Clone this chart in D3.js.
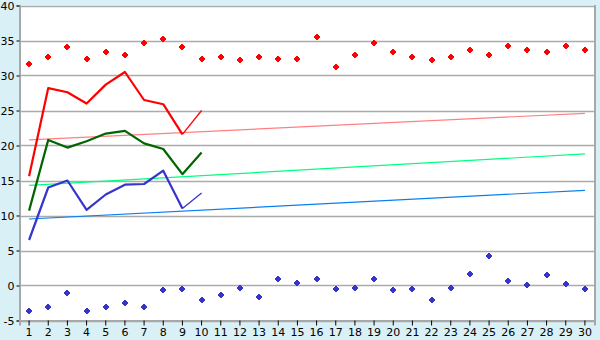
<!DOCTYPE html>
<html><head><meta charset="utf-8">
<script src="https://cdn.jsdelivr.net/npm/d3@7"></script>
<style>
html,body{margin:0;padding:0;background:#daf0f7;}
svg{display:block;}
text{font-family:"DejaVu Sans",Verdana,sans-serif;font-size:11px;fill:#000;}
</style></head><body>
<svg id="c" width="600" height="340"></svg>
<script>
const categories = d3.range(1, 31).map(String);
const yTicks = [-5, 0, 5, 10, 15, 20, 25, 30, 35, 40];

const highDots = [31.7,32.7,34.0,32.3,33.4,32.9,34.7,35.2,34.0,32.4,32.6,32.2,32.6,32.4,32.3,35.5,31.2,32.9,34.7,33.4,32.7,32.2,32.7,33.6,33.0,34.2,33.6,33.4,34.2,33.6];
const lowDots = [-3.7,-3.0,-1.0,-3.7,-3.0,-2.5,-3.0,-0.7,-0.5,-2.0,-1.3,-0.4,-1.7,1.0,0.3,1.0,-0.5,-0.3,1.0,-0.7,-0.5,-2.0,-0.4,1.7,4.2,0.7,0.0,1.5,0.2,-0.5];

const redLine = [15.6,28.2,27.6,26.0,28.7,30.5,26.5,25.9,21.6,25.0];
const greenLine = [10.7,20.8,19.7,20.6,21.7,22.1,20.3,19.5,15.9,19.0];
const blueLine = [6.5,14.0,15.0,10.8,13.0,14.4,14.5,16.4,11.0,13.2];

const trendCats = ["1", "30"];
const redTrend = [20.8, 24.6];
const greenTrend = [14.3, 18.8];
const blueTrend = [9.5, 13.6];

const svg = d3.select("#c");
const L = 19.5, R = 594.5, T = 5.5, B = 320.5;
const x = d3.scaleBand().domain(categories).range([L, R]);
const cx = c => x(c) + x.bandwidth() / 2;
const y = d3.scaleLinear().domain([-5, 40]).range([B, T]);

svg.append("rect").attr("x", L).attr("y", T).attr("width", R - L).attr("height", B - T).attr("fill", "#fff");

// gridlines
svg.append("g").selectAll("line").data(yTicks).join("line")
  .attr("x1", L).attr("x2", R).attr("y1", d => Math.round(y(d)) + 0.5).attr("y2", d => Math.round(y(d)) + 0.5)
  .attr("stroke", "#ababab").attr("stroke-width", 1.5);

// right border
svg.append("line").attr("x1", R + 0.5).attr("x2", R + 0.5).attr("y1", T - 0.5).attr("y2", B + 0.5)
  .attr("stroke", "#a8a8a8").attr("stroke-width", 2);

// axes
const yAxis = d3.axisLeft(y).tickValues(yTicks).tickSize(3).tickPadding(2).tickFormat(d => String(d));
const gy = svg.append("g").attr("transform", `translate(${L},0)`).call(yAxis);
gy.select(".domain").attr("stroke", "#a8a8a8").attr("stroke-width", 2);
gy.selectAll(".tick line").attr("stroke", "#000");
gy.selectAll("text").style("font-size", "11px");

const xAxis = d3.axisBottom(x).tickSize(5).tickPadding(3);
const gx = svg.append("g").attr("transform", `translate(0,${B})`).call(xAxis);
gx.select(".domain").attr("stroke", "#a8a8a8").attr("stroke-width", 2);
gx.selectAll(".tick line").attr("stroke", "#000");
gx.selectAll("text").style("font-size", "11px");

// trend lines
const trends = [[redTrend, "#ff8080"], [greenTrend, "#00ff80"], [blueTrend, "#0a7ff0"]];
trends.forEach(([vals, col]) => {
  svg.append("path")
    .attr("d", d3.line().x((d, i) => cx(trendCats[i])).y(d => y(d))(vals))
    .attr("fill", "none").attr("stroke", col).attr("stroke-width", 1.2);
});

// data lines
const series = [[redLine, "#ff0000", true], [greenLine, "#006400", false], [blueLine, "#3535cc", true]];
const line = d3.line().x(d => cx(d.c)).y(d => y(d.v));
series.forEach(([vals, col, thinLast]) => {
  const pts = vals.map((v, i) => ({c: categories[i], v}));
  const main = thinLast ? pts.slice(0, pts.length - 1) : pts;
  svg.append("path").attr("d", line(main)).attr("fill", "none").attr("stroke", col)
    .attr("stroke-width", 2.2).attr("stroke-linejoin", "round");
  if (thinLast) {
    svg.append("path").attr("d", line(pts.slice(pts.length - 2))).attr("fill", "none").attr("stroke", col)
      .attr("stroke-width", 1.3);
  }
});

// markers
const marker = "M-1,-3H1V-2H2V-1H3V1H2V2H1V3H-1V2H-2V1H-3V-1H-2V-2H-1Z";
function dots(vals, col) {
  svg.append("g").selectAll("path").data(vals).join("path")
    .attr("transform", (d, i) => `translate(${Math.round(cx(categories[i]))},${Math.round(y(d))})`)
    .attr("d", marker).attr("fill", col).attr("shape-rendering", "crispEdges");
}
dots(highDots, "#ff0000");
dots(lowDots, "#3535cc");
</script>
</body></html>
